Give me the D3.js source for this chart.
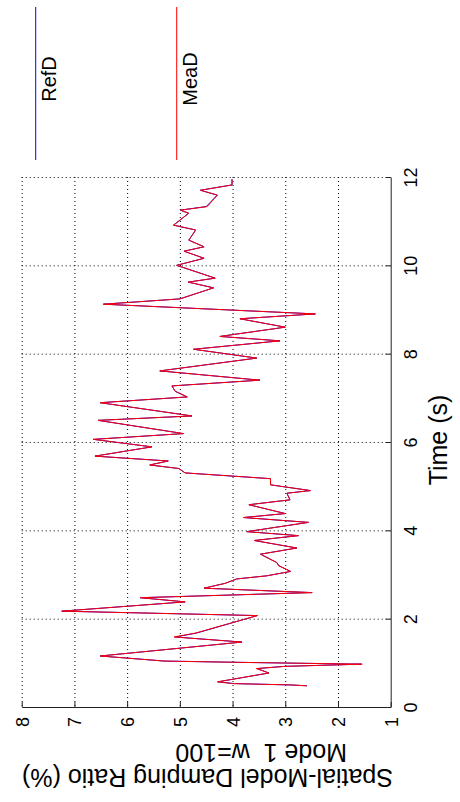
<!DOCTYPE html>
<html>
<head>
<meta charset="utf-8">
<script src="https://cdn.jsdelivr.net/npm/d3@7"></script>
<style>
html,body{margin:0;padding:0;background:#fff;}
svg{display:block;font-family:"Liberation Sans",Arial,Helvetica,sans-serif;}
</style>
</head>
<body>
<svg id="chart" width="460" height="802"></svg>
<script>
// ---- data ----
const time = [0.48,0.50,0.53,0.57,0.77,0.87,0.92,0.97,1.01,1.04,1.155,1.47,1.585,1.675,2.07,2.17,2.38,2.475,2.59,2.69,2.80,2.90,2.97,3.07,3.20,3.27,3.46,3.60,3.77,3.88,3.97,4.18,4.29,4.38,4.58,4.69,4.84,4.90,5.03,5.17,5.30,5.40,5.48,5.57,5.68,5.89,6.06,6.19,6.49,6.59,6.89,7.02,7.15,7.27,7.40,7.61,7.90,8.10,8.29,8.39,8.60,8.79,8.90,9.12,9.24,9.49,9.62,9.71,10.00,10.16,10.32,10.42,10.57,10.80,10.91,11.18,11.25,11.33,11.59,11.70,11.82,11.95];
const meaD = [2.59,2.91,4.00,4.29,3.31,3.55,3.00,1.54,3.82,5.30,6.51,3.82,5.11,4.70,3.53,7.24,4.90,5.75,2.49,4.54,4.14,3.92,3.35,2.90,3.13,3.16,3.47,2.78,3.59,2.75,3.73,2.56,3.79,3.00,3.69,2.91,2.97,2.52,3.28,3.28,4.90,5.02,5.57,5.22,6.61,5.53,6.64,4.93,6.55,4.77,6.51,4.86,5.09,5.15,3.48,5.38,3.54,4.74,3.10,4.24,3.00,3.86,2.43,6.45,5.00,4.36,4.84,4.33,5.06,4.54,4.92,4.54,4.83,4.70,5.12,4.83,4.99,4.48,4.29,4.61,4.01,4.01];
const refD = [2.59,2.91,3.97,4.27,3.31,3.53,3.02,1.56,3.82,5.28,6.51,3.82,5.08,4.68,3.53,7.24,4.90,5.75,2.49,4.54,4.14,3.92,3.35,2.90,3.12,3.16,3.47,2.78,3.59,2.75,3.73,2.56,3.79,3.00,3.69,2.91,2.97,2.52,3.28,3.28,4.90,5.02,5.57,5.22,6.61,5.53,6.64,4.93,6.55,4.77,6.51,4.86,5.09,5.15,3.48,5.38,3.54,4.74,3.10,4.24,3.00,3.86,2.43,6.45,5.00,4.36,4.84,4.33,5.06,4.54,4.92,4.54,4.83,4.70,5.12,4.83,4.99,4.50,4.29,4.61,4.01,4.01];
const timeTicks = [0,2,4,6,8,10,12];
const ratioTicks = [1,2,3,4,5,6,7,8];
const seriesNames = ["RefD","MeaD"];
const seriesColors = ["#0000ff","#ff0000"];
const xLabel = "Time (s)";
const yLabelLines = ["Spatial-Model Damping Ratio (%)","Mode 1  w=100"];

// ---- layout (figure is rotated 90deg CCW) ----
const svg = d3.select("#chart");
const tScale = d3.scaleLinear().domain([0,12]).range([707,177]);   // time -> vertical
const vScale = d3.scaleLinear().domain([1,8]).range([390.7,21.7]); // ratio -> horizontal
const x0 = vScale(1), x1 = vScale(8), y0 = tScale(0), y1 = tScale(12);
const fmt = d3.format("d");

// grid
const grid = svg.append("g").attr("stroke","#000").attr("stroke-width",1).attr("stroke-dasharray","1,3").attr("fill","none");
grid.selectAll("line.h").data(timeTicks.filter(d=>d>0)).join("line")
  .attr("x1",x1).attr("x2",x0).attr("y1",d=>tScale(d)+0.5).attr("y2",d=>tScale(d)+0.5);
grid.selectAll("line.v").data(ratioTicks.filter(d=>d>1)).join("line")
  .attr("y1",y1).attr("y2",y0).attr("x1",d=>vScale(d)+0.5).attr("x2",d=>vScale(d)+0.5);

// time axis (right side)
const tAxis = svg.append("g").attr("transform",`translate(${x0},0)`)
  .call(d3.axisRight(tScale).tickValues(timeTicks).tickFormat(fmt).tickSizeInner(-5).tickSizeOuter(0));
tAxis.select(".domain").attr("stroke","#222");
tAxis.selectAll(".tick line").attr("stroke","#222");
tAxis.selectAll(".tick text").attr("x",null).attr("dy",null)
  .attr("transform","translate(26,0) rotate(-90)").attr("text-anchor","middle")
  .attr("font-size",18).attr("fill","#000").attr("font-family","'Liberation Sans',Arial,sans-serif");

// ratio axis (bottom)
const vAxis = svg.append("g").attr("transform",`translate(0,${y0})`)
  .call(d3.axisBottom(vScale).tickValues(ratioTicks).tickFormat(fmt).tickSizeInner(-5).tickSizeOuter(0));
vAxis.select(".domain").attr("stroke","#222");
vAxis.selectAll(".tick line").attr("stroke","#222");
vAxis.selectAll(".tick text").attr("y",null).attr("dy",null)
  .attr("transform","translate(6.5,15) rotate(-90)").attr("text-anchor","middle")
  .attr("font-size",18).attr("fill","#000").attr("font-family","'Liberation Sans',Arial,sans-serif");

// axis labels
svg.append("text").attr("transform",`translate(447,440) rotate(-90)`)
  .attr("text-anchor","middle").attr("font-size",25).text(xLabel);
svg.append("text").attr("transform",`translate(393,769) rotate(180)`)
  .attr("text-anchor","start").attr("font-size",25).text(yLabelLines[0]);
svg.append("text").attr("transform",`translate(347,744) rotate(180)`)
  .attr("text-anchor","start").attr("font-size",25).style("white-space","pre").text(yLabelLines[1]);

// lines
const line = d3.line().x(d=>vScale(d[1])).y(d=>tScale(d[0]));
const series = [refD, meaD];
series.forEach((s,i)=>{
  svg.append("path").datum(time.map((t,j)=>[t,s[j]]))
    .attr("fill","none").attr("stroke",seriesColors[i]).attr("stroke-width",1)
    .attr("d",line);
});

// legend
const legX = [35.7,176.7];
const leg = svg.append("g");
seriesNames.forEach((n,i)=>{
  leg.append("line").attr("x1",legX[i]).attr("x2",legX[i]).attr("y1",7).attr("y2",160)
    .attr("stroke",seriesColors[i]).attr("stroke-width",1);
  leg.append("text").attr("transform",`translate(${legX[i]+20},79) rotate(-90)`)
    .attr("text-anchor","middle").attr("font-size",20).text(n);
});
</script>
</body>
</html>
